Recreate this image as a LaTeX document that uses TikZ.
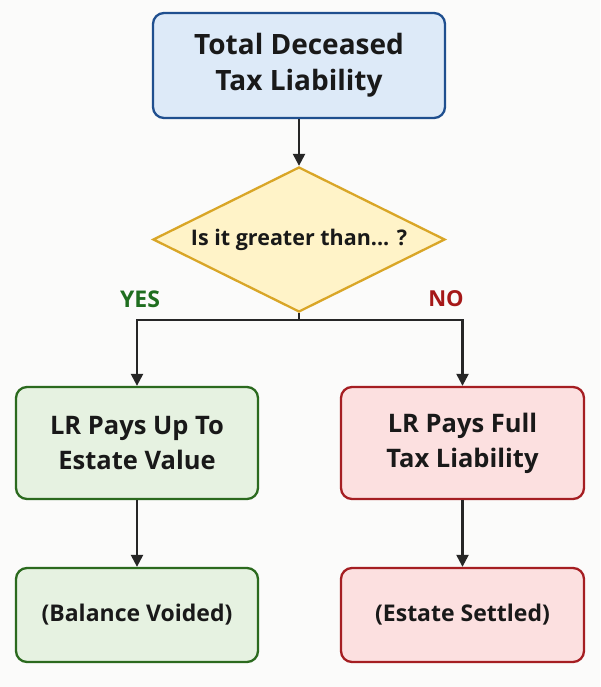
\documentclass[tikz,border=0pt]{standalone}
\usepackage{fontspec}
\setmainfont{Open Sans}
\usetikzlibrary{shapes.geometric,arrows.meta}
\definecolor{bg}{HTML}{FBFBFA}
\definecolor{bluefill}{HTML}{DDEAF8}
\definecolor{blueline}{HTML}{1F4F8F}
\definecolor{yelfill}{HTML}{FFF3C8}
\definecolor{yelline}{HTML}{D9A627}
\definecolor{grnfill}{HTML}{E6F2E1}
\definecolor{grnline}{HTML}{2B6A1E}
\definecolor{redfill}{HTML}{FCE0E0}
\definecolor{redline}{HTML}{A51E22}
\definecolor{yestext}{HTML}{1F6E1F}
\definecolor{notext}{HTML}{A51818}
\tikzset{
  box/.style={draw, line width=2.3pt, rounded corners=11pt, align=center, inner sep=0pt, text=black!90, font=\bfseries\fontsize{25.5}{35}\selectfont},
  conn/.style={line width=2.3pt, draw=black!85, -{Triangle[length=12pt,width=12pt]}},
  plain/.style={line width=2.3pt, draw=black!85},
}
\begin{document}
\begin{tikzpicture}[x=1pt,y=-1pt]
\fill[bg] (0,0) rectangle (600,687);
\useasboundingbox (0,0) rectangle (600,687);
\node[box, fill=bluefill, draw=blueline, minimum width=292pt, minimum height=105pt, font=\bfseries\fontsize{28}{36}\selectfont] (top) at (299,65.5) {Total Deceased\\Tax Liability};
\node[diamond, draw=yelline, fill=yelfill, line width=2.3pt, minimum width=292pt, minimum height=145pt, aspect=2, inner sep=0pt, text=black!90, font=\bfseries\fontsize{21.5}{24}\selectfont] (dec) at (299,239.5) {Is it greater than... ?};
\node[box, fill=grnfill, draw=grnline, minimum width=242pt, minimum height=112pt] (lr1) at (137,443) {LR Pays Up To\\Estate Value};
\node[box, fill=redfill, draw=redline, minimum width=243pt, minimum height=112pt] (lr2) at (462.5,443) {LR Pays Full\\Tax Liability};
\node[box, fill=grnfill, draw=grnline, minimum width=242pt, minimum height=94pt, font=\bfseries\fontsize{23}{30}\selectfont] (bv) at (137,615) {(Balance Voided)};
\node[box, fill=redfill, draw=redline, minimum width=243pt, minimum height=94pt, font=\bfseries\fontsize{23}{30}\selectfont] (es) at (462.5,615) {(Estate Settled)};
\node[text=yestext, font=\bfseries\fontsize{23}{26}\selectfont] (yes) at (140,299) {YES};
\node[text=notext, font=\bfseries\fontsize{22}{26}\selectfont] (no) at (446,299) {NO};
\draw[conn] (top.south) -- (dec.north);
\draw[plain] (dec.south) -- ++(0,7) coordinate (br);
\draw[conn] (br) -| (lr1.north);
\draw[conn] (br) -| (lr2.north);
\draw[conn] (lr1.south) -- (bv.north);
\draw[conn] (lr2.south) -- (es.north);
\end{tikzpicture}
\end{document}
